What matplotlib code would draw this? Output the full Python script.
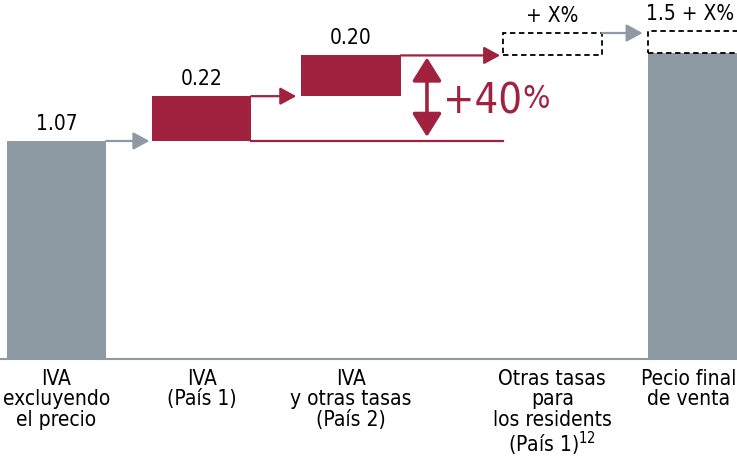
import matplotlib.pyplot as plt
from matplotlib.patches import Rectangle, FancyArrowPatch, ArrowStyle

plt.rcParams['font.family'] = ['DejaVu Sans']
plt.rcParams['font.stretch'] = 'condensed'
plt.rcParams['mathtext.fontset'] = 'custom'
plt.rcParams['mathtext.rm'] = 'DejaVu Sans:stretch=condensed'

# data
labels = ['IVA\nexcluyendo\nel precio', 'IVA\n(País 1)', 'IVA\ny otras tasas\n(País 2)',
          'Otras tasas\npara\nlos residents\n(País 1)$^{\\mathrm{12}}$', 'Pecio final\nde venta']
base_value = 1.07
steps = [0.22, 0.20]
final_value = 1.5
xpct_height = 0.11   # altura supuesta del recuadro "X%"
value_texts = ['1.07', '0.22', '0.20', '+ X%', '1.5 + X%']

red = '#A1223E'
grey = '#8E9AA3'

xpos = [0, 0.98, 1.99, 3.35, 4.33]
w = 0.67
gap = 0.035

fig = plt.figure(figsize=(7.37, 4.6), dpi=100)
ax = fig.add_axes([0, 0, 1, 1])
ax.set_xlim(-0.382, 4.598)
ax.set_ylim(-0.491, 1.767)
ax.axis('off')

ax.axhline(0, color=grey, lw=1.5, zorder=1)

# barras
ax.bar(xpos[0], base_value, width=w, color=grey, zorder=2)
bottoms = [base_value, base_value + steps[0]]
ax.bar(xpos[1:3], steps, bottom=bottoms, width=w, color=red, zorder=2)
ax.bar(xpos[4], final_value, width=w, color=grey, zorder=2)
total = base_value + sum(steps)

# recuadros discontinuos
ax.add_patch(Rectangle((xpos[3] - w / 2, total), w, xpct_height, fill=False,
                       ec='black', lw=1.3, ls=(0, (3, 2)), zorder=3))
ax.add_patch(Rectangle((xpos[4] - w / 2, final_value), w, xpct_height, fill=False,
                       ec='black', lw=1.3, ls=(0, (3, 2)), zorder=3))


def arrow(x0, x1, y, c):
    st = ArrowStyle('-|>', head_length=0.7, head_width=0.38)
    ax.add_patch(FancyArrowPatch((x0, y), (x1, y), arrowstyle=st, mutation_scale=14,
                                 color=c, lw=1.6, shrinkA=0, shrinkB=0, zorder=3))


arrow(xpos[0] + w / 2, xpos[1] - w / 2 - gap / 2, base_value, grey)
arrow(xpos[1] + w / 2, xpos[2] - w / 2 - gap, base_value + steps[0], red)
arrow(xpos[2] + w / 2, xpos[3] - w / 2 - gap / 2, total, red)
arrow(xpos[3] + w / 2, xpos[4] - w / 2 - gap, total + xpct_height, grey)

# linea base del +40%
ax.plot([xpos[1] + w / 2, xpos[3] - w / 2], [base_value, base_value], color=red, lw=1.6, zorder=3)
st2 = ArrowStyle('<|-|>', head_length=0.72, head_width=0.45)
ax.add_patch(FancyArrowPatch((2.503, base_value + 0.02), (2.503, total - 0.01), arrowstyle=st2,
                             mutation_scale=20, color=red, lw=2.6, shrinkA=0, shrinkB=0, zorder=3))
t40 = ax.text(2.61, 1.27, '+40', color=red, fontsize=30, ha='left', va='center')
ax.annotate('%', xy=(1, 0.92), xycoords=t40, xytext=(0.5, 0), textcoords='offset points',
            color=red, fontsize=23, ha='left', va='top')

# textos de valores
tops = [base_value, base_value + steps[0], total, total + xpct_height, final_value + xpct_height]
val_x = [0, 0.98, 1.99, 3.35, 4.28]
for x, t, s in zip(val_x, tops, value_texts):
    ax.text(x, t + 0.04, s, ha='center', va='bottom', fontsize=15)

# etiquetas
lab_x = [0, 0.98, 1.99, 3.35, 4.27]
for x, s in zip(lab_x, labels):
    ax.text(x, -0.045, s, ha='center', va='top', fontsize=15, linespacing=1.02)

fig.savefig('out.png', dpi=100)
